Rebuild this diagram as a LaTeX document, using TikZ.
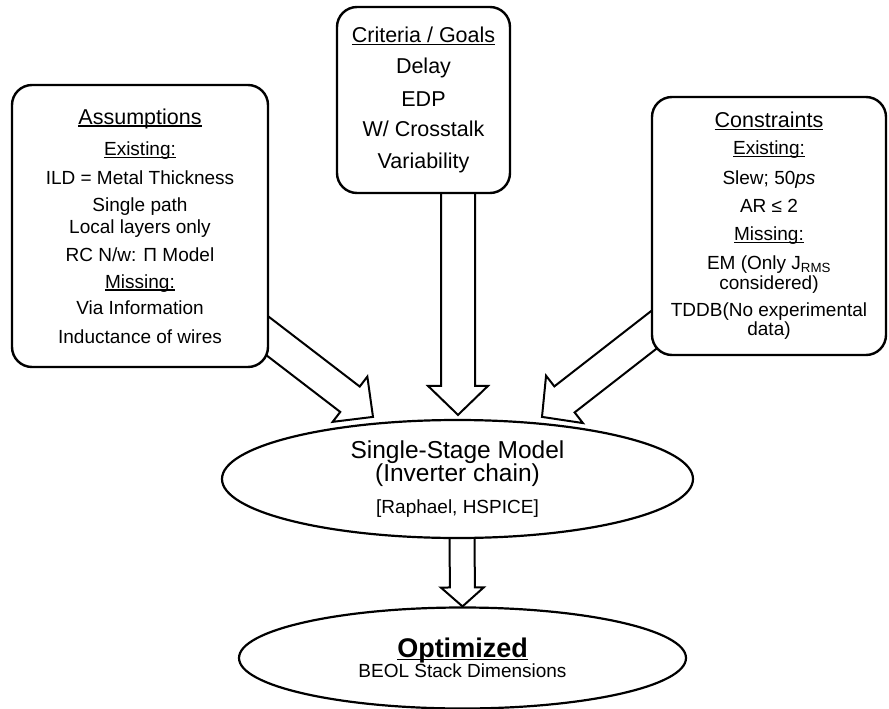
\documentclass[tikz,border=0pt]{standalone}
\usepackage{fontspec}
\setmainfont{Liberation Sans}
\usetikzlibrary{calc,shapes.geometric,backgrounds}

\tikzset{
  infobox/.style={draw, line width=2.4pt, rounded corners=20pt, fill=white, align=center, inner sep=0pt,
    font=\fontsize{19}{21.5}\selectfont},
  stagebox/.style={draw, ellipse, line width=2.2pt, fill=white, align=center, inner sep=0pt},
  hollow/.style={draw, line width=2pt, fill=white, line join=miter},
}
\newcommand{\headfont}{\fontsize{21.5}{24}\selectfont}
\newcommand{\undl}[1]{\setbox0=\hbox{#1}\rlap{\rule[-2.6pt]{\wd0}{1.4pt}}\box0}

% hollow block arrow: tail, tip, half shaft, half head, head length
\newcommand{\fatarrow}[5]{%
  \coordinate (neck) at ($(#2)!#5!(#1)$);
  \draw[hollow] ($(#1)!#3!90:(#2)$) -- ($(neck)!#3!90:(#2)$) -- ($(neck)!#4!90:(#2)$) -- (#2)
    -- ($(neck)!#4!-90:(#2)$) -- ($(neck)!#3!-90:(#2)$) -- ($(#1)!#3!-90:(#2)$);
}

\begin{document}
\begin{tikzpicture}[x=1pt,y=-1pt]
\useasboundingbox (0,0) rectangle (889,709);

\node[infobox, minimum width=256pt, minimum height=282pt] (assum) at (140,226) {%
  {\headfont\undl{Assumptions}}\\[10pt]
  \undl{Existing:}\\[7.5pt]
  ILD = Metal Thickness\\[5.5pt]
  Single path\\
  Local layers only\\[6.5pt]
  RC N/w: Π Model\\[5.5pt]
  \undl{Missing:}\\[4.5pt]
  Via Information\\[7.5pt]
  Inductance of wires};

\node[infobox, font=\fontsize{21.5}{24}\selectfont, minimum width=173pt, minimum height=186pt] (crit) at (423.5,100) {%
  \undl{Criteria / Goals}\\[7pt]
  Delay\\[9pt]
  EDP\\[6pt]
  W/ Crosstalk\\[8pt]
  Variability};

\node[infobox, minimum width=234pt, minimum height=258pt] (constr) at (769,226) {%
  {\headfont\undl{Constraints}}\\[5.5pt]
  \undl{Existing:}\\[8.5pt]
  Slew; 50\textit{ps}\\[6.5pt]
  AR ≤ 2\\[6.5pt]
  \undl{Missing:}\\[7pt]
  EM (Only J\textsubscript{RMS}\\[-1pt]
  considered)\\[5.5pt]
  TDDB(No experimental\\[-2.5pt]
  data)};

\node[stagebox, minimum width=471pt, minimum height=118pt] (model) at (457.5,479) {%
  \fontsize{24.5}{24}\selectfont Single-Stage Model\\
  \fontsize{24.5}{24}\selectfont (Inverter chain)\\[12pt]
  \fontsize{19}{24}\selectfont [Raphael, HSPICE]};

\node[stagebox, minimum width=447pt, minimum height=101pt] (opt) at (462.5,658) {%
  \fontsize{27}{27}\selectfont\bfseries\undl{Optimized}\\
  \fontsize{19}{27}\selectfont BEOL Stack Dimensions};

\begin{scope}[on background layer]
\coordinate (lt) at ($(assum.south east)+(-17,-44)$);
\coordinate (ct) at ($(crit.south)+(34.5,-10)$);
\coordinate (rt) at ($(constr.south west)+(18,-38)$);
\coordinate (mt) at ($(model.south)+(4.5,-10)$);
\fatarrow{lt}{$(model.north)+(-84.5,-2)$}{16pt}{28.5pt}{29pt}
\fatarrow{ct}{$(model.north)+(0.5,-4)$}{17pt}{30pt}{29pt}
\fatarrow{rt}{$(model.north)+(84.5,-2)$}{16.5pt}{30pt}{28.5pt}
\fatarrow{mt}{opt.north}{12.5pt}{21.5pt}{19pt}
\end{scope}

\end{tikzpicture}
\end{document}
